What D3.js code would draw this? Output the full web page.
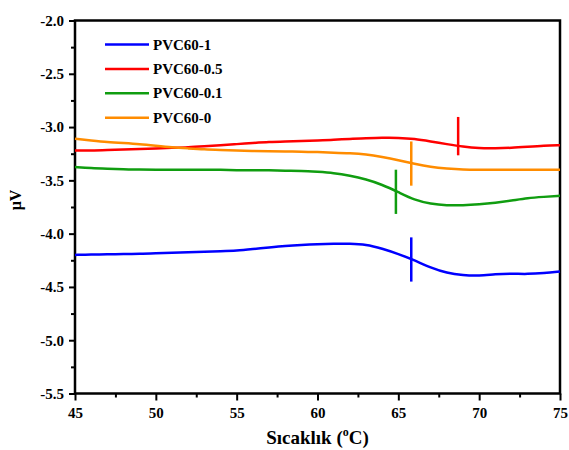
<!DOCTYPE html>
<html>
<head>
<meta charset="utf-8">
<script src="https://cdn.jsdelivr.net/npm/d3@7"></script>
<style>
  body { margin: 0; background: #fff; }
  text { font-family: "Liberation Serif", "Times New Roman", serif; font-weight: bold; }
</style>
</head>
<body>
<div id="chart"></div>
<script>
// temperatures (°C)
const temps = [45,46,47,48,49,50,51,52,53,54,55,56,57,58,59,60,61,62,63,64,65,66,67,68,69,70,71,72,73,74,75];

const pvc1 = [-4.20,-4.195,-4.195,-4.19,-4.19,-4.185,-4.18,-4.175,-4.17,-4.165,-4.16,-4.145,-4.13,-4.115,-4.105,-4.098,-4.095,-4.095,-4.10,-4.14,-4.19,-4.25,-4.32,-4.37,-4.39,-4.395,-4.38,-4.375,-4.38,-4.37,-4.355];
const pvc05 = [-3.22,-3.22,-3.215,-3.21,-3.205,-3.20,-3.195,-3.19,-3.18,-3.17,-3.16,-3.15,-3.14,-3.135,-3.13,-3.125,-3.12,-3.11,-3.105,-3.10,-3.10,-3.11,-3.135,-3.16,-3.185,-3.20,-3.20,-3.195,-3.185,-3.175,-3.17];
const pvc01 = [-3.375,-3.385,-3.39,-3.395,-3.40,-3.40,-3.40,-3.40,-3.40,-3.40,-3.405,-3.405,-3.405,-3.41,-3.41,-3.42,-3.43,-3.455,-3.49,-3.54,-3.61,-3.685,-3.72,-3.735,-3.735,-3.725,-3.71,-3.69,-3.665,-3.655,-3.645];
const pvc0 = [-3.11,-3.125,-3.14,-3.15,-3.16,-3.175,-3.19,-3.20,-3.21,-3.215,-3.22,-3.225,-3.228,-3.23,-3.23,-3.235,-3.24,-3.245,-3.255,-3.28,-3.31,-3.345,-3.375,-3.39,-3.40,-3.40,-3.40,-3.40,-3.40,-3.40,-3.40];

const seriesNames = ["PVC60-1", "PVC60-0.5", "PVC60-0.1", "PVC60-0"];
const seriesColors = ["#0000ff", "#ff0000", "#109d10", "#ff8c00"];
const seriesValues = [pvc1, pvc05, pvc01, pvc0];

// transition markers: temperature, lower and upper signal
const markerTemps = [65.8, 68.7, 64.85, 65.8];
const markerLow = [-4.45, -3.265, -3.815, -3.55];
const markerHigh = [-4.035, -2.905, -3.40, -3.135];

const xTicks = [45, 50, 55, 60, 65, 70, 75];
const yTicks = [-2.0, -2.5, -3.0, -3.5, -4.0, -4.5, -5.0, -5.5];

const W = 569, H = 450;
const margin = { top: 20.5, right: 9, bottom: 56.5, left: 75 };
const width = W - margin.left - margin.right;
const height = H - margin.top - margin.bottom;

const svg = d3.select("#chart").append("svg")
  .attr("width", W)
  .attr("height", H);

const g = svg.append("g").attr("transform", `translate(${margin.left},${margin.top})`);

const x = d3.scaleLinear().domain([45, 75]).range([0, width]);
const y = d3.scaleLinear().domain([-5.5, -2.0]).range([height, 0]);

// minor ticks
g.append("g")
  .attr("transform", `translate(0,${height})`)
  .call(d3.axisBottom(x).tickValues(d3.range(47.5, 75, 5)).tickSize(4).tickFormat(""))
  .call(a => a.select(".domain").remove())
  .selectAll("line").attr("stroke-width", 2);

g.append("g")
  .call(d3.axisLeft(y).tickValues(d3.range(-5.25, -2.0, 0.5)).tickSize(4).tickFormat(""))
  .call(a => a.select(".domain").remove())
  .selectAll("line").attr("stroke-width", 2);

// major axes
const xAxis = g.append("g")
  .attr("transform", `translate(0,${height})`)
  .call(d3.axisBottom(x).tickValues(xTicks).tickSize(7).tickPadding(7).tickFormat(d => String(d)));

const yAxis = g.append("g")
  .call(d3.axisLeft(y).tickValues(yTicks).tickSize(6).tickPadding(5).tickFormat(d => d.toFixed(1)));

[xAxis, yAxis].forEach(a => {
  a.attr("font-family", "Liberation Serif, Times New Roman, serif")
    .attr("font-weight", "bold")
    .attr("font-size", 15);
  a.selectAll("text").attr("fill", "#000");
  a.selectAll("line").attr("stroke-width", 2);
  a.select(".domain").remove();
});

// frame
g.append("rect")
  .attr("x", 0).attr("y", 0)
  .attr("width", width).attr("height", height)
  .attr("fill", "none")
  .attr("stroke", "#000")
  .attr("stroke-width", 2.5);

// series
const line = d3.line()
  .x((d, i) => x(temps[i]))
  .y(d => y(d))
  .curve(d3.curveBasis);

seriesValues.forEach((vals, k) => {
  g.append("path")
    .datum(vals)
    .attr("fill", "none")
    .attr("stroke", seriesColors[k])
    .attr("stroke-width", 2.5)
    .attr("d", line);
});

// markers
markerTemps.forEach((t, k) => {
  g.append("line")
    .attr("x1", x(t)).attr("x2", x(t))
    .attr("y1", y(markerLow[k])).attr("y2", y(markerHigh[k]))
    .attr("stroke", seriesColors[k])
    .attr("stroke-width", 2.5);
});

// legend
const legend = g.append("g").attr("transform", "translate(30,24)");
seriesNames.forEach((name, k) => {
  const row = legend.append("g").attr("transform", `translate(0,${k * 24.4})`);
  row.append("line")
    .attr("x1", 0).attr("x2", 44)
    .attr("stroke", seriesColors[k])
    .attr("stroke-width", 2.5);
  row.append("text")
    .attr("x", 48).attr("y", 5)
    .attr("font-size", 15)
    .text(name);
});

// axis titles
const xt = svg.append("text")
  .attr("x", margin.left + width / 2)
  .attr("y", 444)
  .attr("text-anchor", "middle")
  .attr("font-size", 19);
xt.append("tspan").text("Sıcaklık (");
xt.append("tspan").attr("dy", -8).attr("font-size", 12).text("o");
xt.append("tspan").attr("dy", 8).text("C)");

svg.append("text")
  .attr("transform", "translate(21,200) rotate(-90)")
  .attr("text-anchor", "middle")
  .attr("font-size", 16)
  .text("μV");
</script>
</body>
</html>
